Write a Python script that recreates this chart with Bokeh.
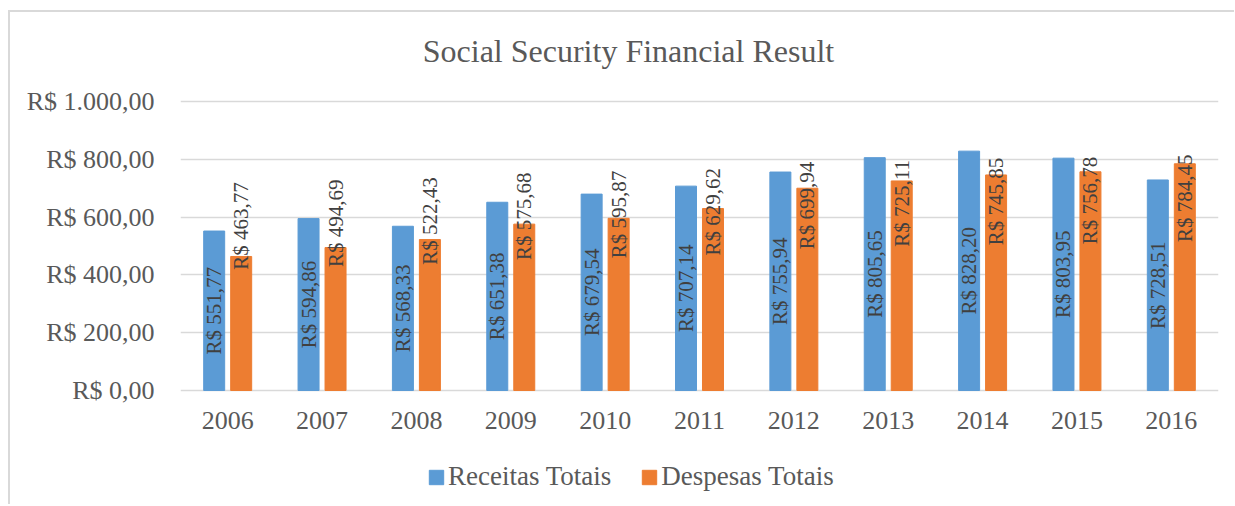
import math
from bokeh.plotting import figure
from bokeh.models import ColumnDataSource, FactorRange, FixedTicker, Legend, LegendItem, Label, Range1d
from bokeh.transform import dodge
from bokeh.embed import file_html
from bokeh.resources import INLINE
from bokeh.core.properties import value

# ---- data ----
years = ["2006", "2007", "2008", "2009", "2010", "2011", "2012", "2013", "2014", "2015", "2016"]
receitas = [551.77, 594.86, 568.33, 651.38, 679.54, 707.14, 755.94, 805.65, 828.20, 803.95, 728.51]
despesas = [463.77, 494.69, 522.43, 575.68, 595.87, 629.62, 699.94, 725.11, 745.85, 756.78, 784.45]
series_names = ["Receitas Totais", "Despesas Totais"]
y_ticks = [0, 200, 400, 600, 800, 1000]
y_tick_labels = ["R$ 0,00", "R$ 200,00", "R$ 400,00", "R$ 600,00", "R$ 800,00", "R$ 1.000,00"]
title_text = "Social Security Financial Result"

BLUE = "#5B9BD5"
ORANGE = "#ED7D31"
GRID = "#D9D9D9"
TXT = "#595959"
FONT = "Liberation Serif"

# ---- layout constants (pixels) ----
FRAME_W, FRAME_H = 1038, 492
ZERO_FROM_TOP = 378          # pixel row of value 0 inside the frame
PX_PER_UNIT = 289 / 1000.0   # 1000 units = 289 px
Y_TOP = ZERO_FROM_TOP / PX_PER_UNIT
Y_BOTTOM = -(FRAME_H - ZERO_FROM_TOP) / PX_PER_UNIT


def px(d):
    return d / PX_PER_UNIT


def brl(v):
    return "R$ " + f"{v:.2f}".replace(".", ",")


src = ColumnDataSource(dict(
    year=years,
    rec=receitas,
    desp=despesas,
    rec_lab=[brl(v) for v in receitas],
    desp_lab=[brl(v) for v in despesas],
    rec_lab_y=[v * 0.5 for v in receitas],
    desp_lab_y=[v * 0.3 + 430 for v in despesas],
    year_y=[-px(30)] * len(years),
))

p = figure(
    x_range=FactorRange(*years), y_range=Range1d(Y_BOTTOM, Y_TOP),
    frame_width=FRAME_W, frame_height=FRAME_H, output_backend="svg", toolbar_location=None,
    min_border_left=170, min_border_right=16, min_border_top=0, min_border_bottom=0,
)
p.styles = {"border-top": "2px solid #D9D9D9", "border-left": "2px solid #D9D9D9",
            "margin-top": "10px", "margin-left": "8px"}
p.outline_line_color = None
p.background_fill_color = "white"
p.border_fill_color = "white"
p.title.visible = False

bw = 0.2225
off = 0.143
r1 = p.vbar(x=dodge("year", -off, range=p.x_range), top="rec", width=bw, source=src,
            fill_color=BLUE, line_color=BLUE)
r2 = p.vbar(x=dodge("year", off, range=p.x_range), top="desp", width=bw, source=src,
            fill_color=ORANGE, line_color=ORANGE)

for ycol, tcol, dx in [("rec_lab_y", "rec_lab", -off), ("desp_lab_y", "desp_lab", off)]:
    p.text(x=dodge("year", dx, range=p.x_range), y=ycol, text=tcol, source=src,
           angle=math.pi / 2, text_align="center", text_baseline="middle",
           text_font=value(FONT), text_font_size="21px", text_color="#404040")

# category labels under the zero line
p.text(x="year", y="year_y", text="year", source=src, text_align="center",
       text_baseline="alphabetic", text_font=value(FONT), text_font_size="26px", text_color=TXT)

# y axis
p.yaxis.ticker = FixedTicker(ticks=y_ticks)
p.yaxis.major_label_overrides = dict(zip(y_ticks, y_tick_labels))
p.yaxis.axis_line_color = None
p.yaxis.major_tick_line_color = None
p.yaxis.minor_tick_line_color = None
p.yaxis.major_label_standoff = 20
p.yaxis.major_label_text_font = FONT
p.yaxis.major_label_text_font_size = "26px"
p.yaxis.major_label_text_color = TXT

p.xaxis.visible = False
p.xgrid.grid_line_color = None
p.ygrid.grid_line_color = GRID
p.ygrid.grid_line_width = 1.5

# title
p.add_layout(Label(x=448 / (FRAME_W / len(years)), y=px(390 - 50), text=title_text,
                   text_align="center", text_baseline="alphabetic",
                   text_font=FONT, text_font_size="32px", text_color=TXT))

legend = Legend(items=[LegendItem(label=series_names[0], renderers=[r1]),
                       LegendItem(label=series_names[1], renderers=[r2])],
                orientation="horizontal", location=(247, 12),
                glyph_width=18, glyph_height=18, label_height=18, label_standoff=3,
                spacing=29, padding=0, margin=0,
                label_text_font=FONT, label_text_font_size="27px", label_text_color=TXT,
                border_line_color=None, background_fill_alpha=0)
p.add_layout(legend)

open("out.html", "w").write(file_html(p, INLINE))
